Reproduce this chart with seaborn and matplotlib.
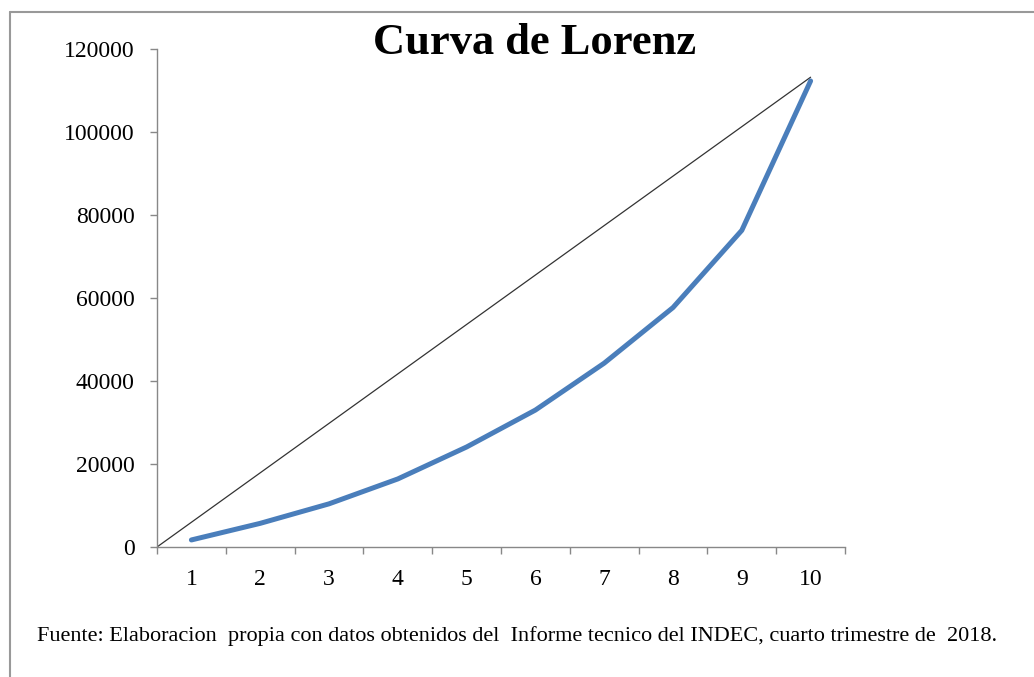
import numpy as np
import pandas as pd
import matplotlib.pyplot as plt
import seaborn as sns
from matplotlib.lines import Line2D
from matplotlib.ticker import MultipleLocator, FixedLocator

# =====================================
# Data
# =====================================

deciles = [1, 2, 3, 4, 5, 6, 7, 8, 9, 10]
acumulado = [1700, 5700, 10400, 16400, 24100, 33000, 44300, 57700, 76300, 112300]

# line of perfect equality (from the axis origin up to the last decile)
igualdad_x = [0.5, 10]
igualdad_y = [0, 113200]

titulo = "Curva de Lorenz"
fuente = ("Fuente: Elaboracion  propia con datos obtenidos del  Informe tecnico "
          "del INDEC, cuarto trimestre de  2018.")

df = pd.DataFrame({"Decil": deciles, "Ingreso": acumulado})
df_igualdad = pd.DataFrame({"x": igualdad_x, "y": igualdad_y})

# =====================================
# Plot
# =====================================

sns.set_style("white")
plt.rcParams["font.family"] = ["Liberation Serif", "DejaVu Serif"]
plt.rcParams["text.color"] = "black"
plt.rcParams["xtick.labelcolor"] = "black"
plt.rcParams["ytick.labelcolor"] = "black"

fig = plt.figure(figsize=(10.34, 6.77), dpi=100)
ax = fig.add_axes([157 / 1034, 1 - 547 / 677, (845 - 157) / 1034, (547 - 49) / 677])

sns.lineplot(data=df_igualdad, x="x", y="y", ax=ax,
             color="#333333", linewidth=0.9)
sns.lineplot(data=df, x="Decil", y="Ingreso", ax=ax,
             color="#4A7EBB", linewidth=3.6, solid_capstyle="round")

ax.set_xlim(0.5, 10.5)
ax.set_ylim(0, 120000)

ax.xaxis.set_major_locator(FixedLocator(deciles))
ax.xaxis.set_minor_locator(FixedLocator(np.arange(0.5, 11, 1)))
ax.yaxis.set_major_locator(MultipleLocator(20000))
ax.set_xticklabels([str(d) for d in deciles])

ax.tick_params(axis="x", which="major", length=0, pad=16, labelsize=17)
ax.tick_params(axis="x", which="minor", length=5, width=1, color="#888888",
               bottom=True, direction="out")
ax.tick_params(axis="y", length=5, width=1, color="#888888", pad=11,
               labelsize=17, left=True, direction="out")

ax.set_xlabel("")
ax.set_ylabel("")

for side in ["top", "right"]:
    ax.spines[side].set_visible(False)
for side in ["left", "bottom"]:
    ax.spines[side].set_color("#888888")
    ax.spines[side].set_linewidth(1)

fig.text(535 / 1034, 1 - 43 / 677, titulo, ha="center", va="center",
         fontsize=32, fontweight="bold", color="black")

fig.text(37 / 1034, 1 - 636 / 677, fuente, ha="left", va="center",
         fontsize=16, color="black")

# chart area border (only top and left are visible)
fig.add_artist(Line2D([10 / 1034, 1], [1 - 12 / 677, 1 - 12 / 677],
                      transform=fig.transFigure, color="#999999", linewidth=1.5))
fig.add_artist(Line2D([10 / 1034, 10 / 1034], [0, 1 - 12 / 677],
                      transform=fig.transFigure, color="#999999", linewidth=1.5))

plt.savefig("out.png", dpi=100)
